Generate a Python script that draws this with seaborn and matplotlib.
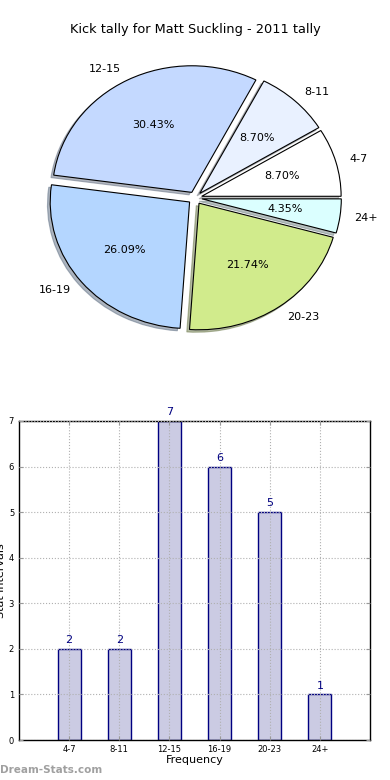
import matplotlib
matplotlib.use('Agg')
import matplotlib.pyplot as plt
import seaborn as sns

# data
intervals = ['4-7', '8-11', '12-15', '16-19', '20-23', '24+']
counts = [2, 2, 7, 6, 5, 1]
pie_colors = ['#ffffff', '#e9f1ff', '#c4d9ff', '#b4d6ff', '#d1eb8c', '#dbffff']
explode = [0.05, 0.05, 0.05, 0.05, 0.05, 0.05]

plt.rcParams['font.family'] = ['DejaVu Sans']

fig = plt.figure(figsize=(3.9, 7.8), dpi=100)

# pie on top (old style, not equal aspect)
ax1 = fig.add_axes([20.75 / 390, 423.75 / 780, 348.5 / 390, 316.5 / 780])
ax1.pie(counts, labels=intervals, colors=pie_colors, explode=explode,
        autopct='%1.2f%%', startangle=0,
        shadow={'ox': -0.014, 'oy': -0.014, 'shade': 0.5},
        wedgeprops=dict(edgecolor='black', linewidth=0.8),
        textprops=dict(fontsize=8))
ax1.set_aspect('auto')
ax1.set_xlim(-1.25, 1.25)
ax1.set_ylim(-1.25, 1.25)
fig.text(0.5, 1 - 30 / 780, 'Kick tally for Matt Suckling - 2011 tally',
         ha='center', va='center', fontsize=9.3)

# bar chart below
ax2 = fig.add_axes([19 / 390, 40 / 780, 351 / 390, 319 / 780])
sns.barplot(x=intervals, y=counts, color='#cbcbe3', saturation=1, width=0.46,
            edgecolor='#000080', linewidth=1, ax=ax2)
for i, v in enumerate(counts):
    ax2.text(i, v + 0.08, str(v), ha='center', va='bottom', color='#000080', fontsize=8)
ax2.set_xlim(-1, 6)
ax2.set_ylim(0, 7)
ax2.set_axisbelow(False)
ax2.grid(True, linestyle=':', color='#b0b0b0', linewidth=0.8)
ax2.tick_params(labelsize=6, direction='in', top=True, right=True, length=3, color='#999999')
ax2.set_xlabel('Frequency', fontsize=8, labelpad=1)
ax2.set_ylabel('Stat intervals', fontsize=8, labelpad=2)
for s in ax2.spines.values():
    s.set_color('black')
    s.set_linewidth(1)

fig.text(0.0, 1 - 770 / 780, 'Dream-Stats.com', ha='left', va='center',
         fontsize=7.5, fontweight='bold', color='#a0a0a0')

fig.savefig('out.png', dpi=100)
